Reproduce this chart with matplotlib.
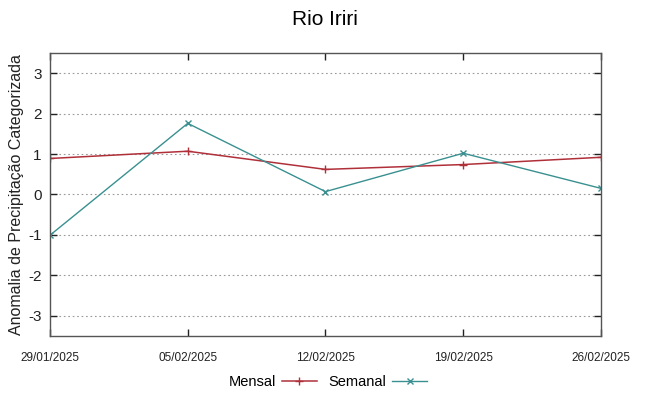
import numpy as np
import pandas as pd
import matplotlib
matplotlib.use("Agg")
import matplotlib.pyplot as plt
import matplotlib.dates as mdates

plt.rcParams['font.family'] = ['Liberation Sans', 'DejaVu Sans']
plt.rcParams['axes.unicode_minus'] = False

# ----------------------------------------------------------------------
# data
datas = ["29/01/2025", "05/02/2025", "12/02/2025", "19/02/2025", "26/02/2025"]
mensal = [0.89, 1.07, 0.62, 0.74, 0.92]
semanal = [-1.01, 1.76, 0.07, 1.02, 0.15]
y_ticks = [-3, -2, -1, 0, 1, 2, 3]

x = pd.to_datetime(datas, format="%d/%m/%Y")

cor_mensal = '#b0303a'
cor_semanal = '#3a9090'
cor_eixo = '#555555'

fig = plt.figure(figsize=(6.49, 3.96), dpi=100)
ax = fig.add_axes([0.077, 0.152, 0.849, 0.714])

ax.plot(x, mensal, color=cor_mensal, marker='+', ms=6, lw=1.1, label='Mensal')
ax.plot(x, semanal, color=cor_semanal, marker='x', ms=5, lw=1.0, label='Semanal')

ax.set_xlim(x[0], x[-1])
ax.set_ylim(-3.5, 3.5)
ax.set_yticks(y_ticks)
ax.set_xticks(x)
ax.xaxis.set_major_formatter(mdates.DateFormatter('%d/%m/%Y'))

ax.grid(axis='y', linestyle=(0, (1.5, 2.5)), color='#999999', lw=0.8)
for s in ax.spines.values():
    s.set_color(cor_eixo)
    s.set_linewidth(1.0)

ax.tick_params(axis='both', direction='in', top=True, right=True,
               color='#222222', length=5, width=1)
ax.tick_params(axis='y', labelsize=11, labelcolor='#222222', pad=6)
ax.tick_params(axis='x', labelsize=8.5, labelcolor='#222222', pad=12)

ax.set_ylabel('Anomalia de Precipitação Categorizada', fontsize=11.5, color='#222222', labelpad=3)
fig.suptitle('Rio Iriri', fontsize=15, y=0.975)

fig.legend(*ax.get_legend_handles_labels(), loc='center', bbox_to_anchor=(0.505, 0.035),
           ncol=2, frameon=False, markerfirst=False, fontsize=10.5, handlelength=2.4,
           columnspacing=0.8, handletextpad=0.4)

fig.savefig('out.png', dpi=100)
